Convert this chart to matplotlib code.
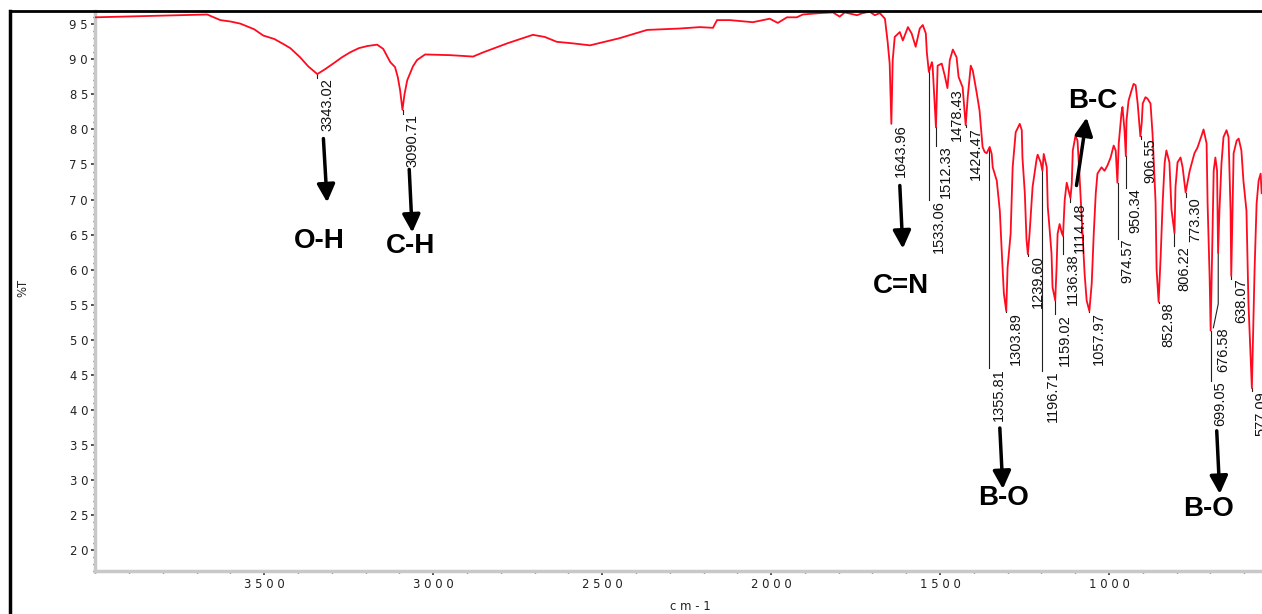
import matplotlib
matplotlib.use("Agg")
import matplotlib.pyplot as plt
import matplotlib.transforms as mtransforms
from matplotlib import font_manager
from matplotlib.lines import Line2D
from matplotlib.ticker import MultipleLocator, FuncFormatter

# spectrum (wavenumber cm-1, %T)
# high-wavenumber part
wn_high = [4000, 3669, 3630, 3600, 3571, 3530, 3503, 3470, 3444, 3423,
           3394, 3370, 3343, 3320, 3296, 3270, 3246, 3220, 3195, 3166,
           3148, 3127, 3113, 3105, 3098, 3091, 3085, 3077, 3060, 3048,
           3024, 2950, 2882, 2852, 2780, 2705, 2670, 2634, 2590, 2536,
           2450, 2367, 2270, 2211, 2172, 2160, 2122, 2054, 2004, 1980,
           1953, 1924, 1906, 1856, 1817, 1797, 1782, 1746, 1729, 1708,
           1693, 1678]
t_high = [96.0, 96.4, 95.6, 95.4, 95.1, 94.3, 93.4, 92.9, 92.2, 91.6,
          90.3, 89.0, 87.9, 88.6, 89.4, 90.3, 91.0, 91.6, 91.9, 92.1,
          91.5, 89.6, 88.9, 87.5, 85.6, 82.8, 85.0, 87.0, 89.0, 89.9,
          90.7, 90.6, 90.4, 91.0, 92.3, 93.5, 93.2, 92.5, 92.3, 92.0,
          93.0, 94.2, 94.4, 94.6, 94.5, 95.6, 95.6, 95.3, 95.8, 95.2,
          96.0, 96.0, 96.4, 96.6, 96.7, 96.1, 96.7, 96.3, 96.6, 96.8,
          96.3, 96.6]
# fingerprint part
wn_low = [1663, 1655, 1649,
          1644, 1640, 1634, 1619, 1610, 1595, 1584, 1572, 1560, 1551,
          1542, 1539, 1533, 1524, 1522, 1516, 1512, 1507, 1495, 1486,
          1478, 1471, 1462, 1451, 1445, 1433, 1424, 1418, 1409, 1403,
          1391, 1383, 1374, 1368, 1362, 1356, 1353, 1347, 1344, 1332,
          1323, 1317, 1311, 1304, 1300, 1291, 1285, 1276, 1264, 1258,
          1256, 1249, 1244, 1240, 1235, 1226, 1214, 1211, 1202, 1197,
          1193, 1184, 1181, 1176, 1170, 1167, 1159, 1155, 1152, 1146,
          1140, 1136, 1131, 1125, 1122, 1114, 1110, 1107, 1099, 1093,
          1087, 1078, 1072, 1066, 1058, 1051, 1045, 1039, 1034, 1022,
          1013, 1004, 995, 986, 980, 975, 971, 963, 960, 954,
          950, 948, 942, 933, 927, 921, 915, 907, 903, 900,
          892, 886, 877, 871, 862, 859, 853, 847, 841, 835,
          830, 821, 815, 806, 803, 797, 788, 782, 773, 761,
          747, 738, 726, 720, 711, 708, 702, 699, 693, 690,
          685, 680, 677, 673, 667, 661, 652, 646, 640, 638,
          631, 622, 616, 608, 602, 593, 587, 581, 577, 569,
          563, 557, 551, 548]
t_low = [95.8, 92.5, 89.4,
         80.8, 89.9, 93.2, 93.9, 92.7, 94.6, 93.7, 91.8, 94.4, 94.9,
         93.7, 91.0, 88.2, 89.6, 89.1, 83.7, 80.3, 89.1, 89.4, 87.7,
         85.9, 89.9, 91.4, 90.3, 87.5, 86.0, 80.6, 84.6, 89.1, 88.4,
         85.1, 82.7, 77.5, 76.8, 76.6, 77.2, 77.5, 76.5, 74.6, 72.7,
         68.4, 62.3, 56.6, 54.1, 60.3, 65.1, 74.6, 79.6, 80.8, 79.9,
         76.0, 70.9, 64.3, 62.2, 65.1, 71.8, 75.8, 76.4, 75.3, 74.1,
         76.5, 74.6, 68.9, 66.0, 62.3, 57.5, 55.6, 60.3, 65.1, 66.5,
         65.3, 64.8, 69.9, 72.4, 71.8, 70.2, 72.3, 77.0, 79.1, 78.4,
         73.3, 65.1, 59.4, 55.6, 54.1, 58.0, 65.1, 70.9, 73.7, 74.6,
         74.1, 74.9, 76.0, 77.7, 77.0, 72.4, 78.0, 82.3, 83.2, 79.9,
         76.2, 81.3, 84.1, 85.6, 86.5, 86.3, 83.7, 79.0, 80.9, 83.7,
         84.6, 84.4, 83.7, 79.4, 69.6, 60.0, 55.4, 61.8, 69.6, 75.3,
         77.0, 75.3, 68.6, 65.2, 71.8, 75.3, 76.0, 74.6, 71.0, 74.1,
         76.6, 77.4, 79.1, 80.0, 78.0, 69.4, 58.9, 51.3, 67.0, 74.1,
         76.0, 74.1, 62.4, 68.4, 75.1, 78.9, 79.9, 78.9, 68.4, 59.1,
         76.6, 78.4, 78.7, 77.0, 72.7, 68.4, 55.1, 48.0, 43.1, 59.9,
         69.4, 72.7, 73.7, 70.9]

# peak labels: text, position, %T at peak, %T where the leader ends
peak_text = ["3343.02", "3090.71", "1643.96", "1533.06", "1512.33", "1478.43",
             "1424.47", "1355.81", "1303.89", "1239.60", "1196.71", "1159.02",
             "1136.38", "1114.48", "1057.97", "974.57", "950.34", "906.55",
             "852.98", "806.22", "773.30", "699.05", "638.07", "577.09"]
peak_wn = [3343.02, 3090.71, 1643.96, 1533.06, 1512.33, 1478.43,
           1424.47, 1355.81, 1303.89, 1239.60, 1196.71, 1159.02,
           1136.38, 1114.48, 1057.97, 974.57, 950.34, 906.55,
           852.98, 806.22, 773.30, 699.05, 638.07, 577.09]
peak_t = [87.9, 82.8, 80.8, 88.2, 80.3, 85.9,
          80.6, 77.2, 54.1, 62.2, 74.1, 55.6,
          64.8, 70.2, 54.1, 72.4, 76.2, 79.0,
          55.4, 65.2, 71.0, 51.3, 59.1, 43.1]
label_top = [87.3, 82.2, 80.8, 69.9, 77.7, 85.9,
             80.3, 45.9, 53.9, 62.0, 45.6, 53.7,
             62.3, 69.6, 53.9, 64.4, 71.6, 78.7,
             55.3, 63.4, 70.3, 44.1, 58.7, 42.7]

# the 676.58 label has a bent leader
bent_text = "676.58"
bent_path_wn = [676.58, 676.58, 691.0]
bent_path_t = [62.4, 55.1, 51.7]

# band assignments: text, text position, arrow tail, arrow tip
band_text = ["O-H", "C-H", "C=N", "B-C", "B-O", "B-O"]
band_pos = [(3337, 64.1), (3068, 63.4), (1616, 57.7), (1048, 84.1), (1311, 27.4), (705, 25.9)]
arrow_tail = [(3325, 78.7), (3071, 74.3), (1619, 72.0), (1096, 72.0), (1323, 37.4), (681, 37.0)]
arrow_tip = [(3314, 69.6), (3062, 65.3), (1610, 63.0), (1066, 81.7), (1314, 28.7), (672, 28.0)]

W, H = 1262, 614
fig = plt.figure(figsize=(W / 100, H / 100), dpi=100)
ax = fig.add_axes([95 / W, 1 - 571 / H, (W - 95) / W, (571 - 11) / H])

names = {f.name for f in font_manager.fontManager.ttflist}
if "Liberation Sans Narrow" in names:
    num_font, num_size = "Liberation Sans Narrow", 12.5
else:
    num_font, num_size = "Liberation Sans", 10.5

ax.plot(wn_high + wn_low, t_high + t_low, color="#ff0a1e", lw=1.3, zorder=3)

shift = mtransforms.offset_copy(ax.transData, fig=fig, x=3, y=0, units="dots")
for txt, x, yp, yt in zip(peak_text, peak_wn, peak_t, label_top):
    ax.plot([x, x], [yp, yt], color="#202020", lw=0.8, zorder=2)
    ax.text(x, yt, txt, rotation=90, ha="left", va="top", transform=shift,
            family=num_font, fontsize=num_size, color="#111111")

ax.plot(bent_path_wn, bent_path_t, color="#202020", lw=0.8, zorder=2)
ax.text(bent_path_wn[-1], bent_path_t[-1], bent_text, rotation=90, ha="left", va="top",
        transform=shift, family=num_font, fontsize=num_size, color="#111111")

for txt, pos, tail, tip in zip(band_text, band_pos, arrow_tail, arrow_tip):
    ax.annotate("", xy=tip, xytext=tail,
                arrowprops=dict(arrowstyle="-|>,head_length=0.6,head_width=0.3",
                                mutation_scale=18, lw=2.5, color="black",
                                shrinkA=0, shrinkB=0))
    ax.text(pos[0], pos[1], txt, ha="center", va="center", family="Liberation Sans",
            fontweight="bold", fontsize=20, color="black")

ax.set_xlim(4001, 547)
ax.set_ylim(17, 96.9)

ax.set_xticks([3500, 3000, 2500, 2000, 1500, 1000])
ax.xaxis.set_minor_locator(MultipleLocator(100))
ax.set_yticks(list(range(20, 100, 5)))
ax.yaxis.set_minor_locator(MultipleLocator(1))
spaced = FuncFormatter(lambda v, p: " ".join(str(int(round(v)))))
ax.xaxis.set_major_formatter(spaced)
ax.yaxis.set_major_formatter(spaced)

ax.tick_params(which="major", length=3, width=1.2, color="#333333", labelsize=8.4,
               labelcolor="#222222", pad=2)
ax.tick_params(which="minor", length=1.5, width=1, color="#333333")

for side in ["top", "right"]:
    ax.spines[side].set_visible(False)
for side in ["left", "bottom"]:
    ax.spines[side].set_color("#c8c8c8")
    ax.spines[side].set_linewidth(2.5)

fig.add_artist(Line2D([10 / W, 1], [1 - 11 / H, 1 - 11 / H], color="black", lw=2,
                      transform=fig.transFigure))
fig.add_artist(Line2D([10 / W, 10 / W], [0, 1 - 11 / H], color="black", lw=2.5,
                      transform=fig.transFigure))

fig.text(23 / W, 1 - 288 / H, "%T", rotation=90, ha="center", va="center",
         fontsize=8.4, color="#222222")
fig.text(690 / W, 1 - 606 / H, "c m - 1", ha="center", va="center",
         fontsize=8.4, color="#222222")

fig.savefig("out.png", dpi=100)
